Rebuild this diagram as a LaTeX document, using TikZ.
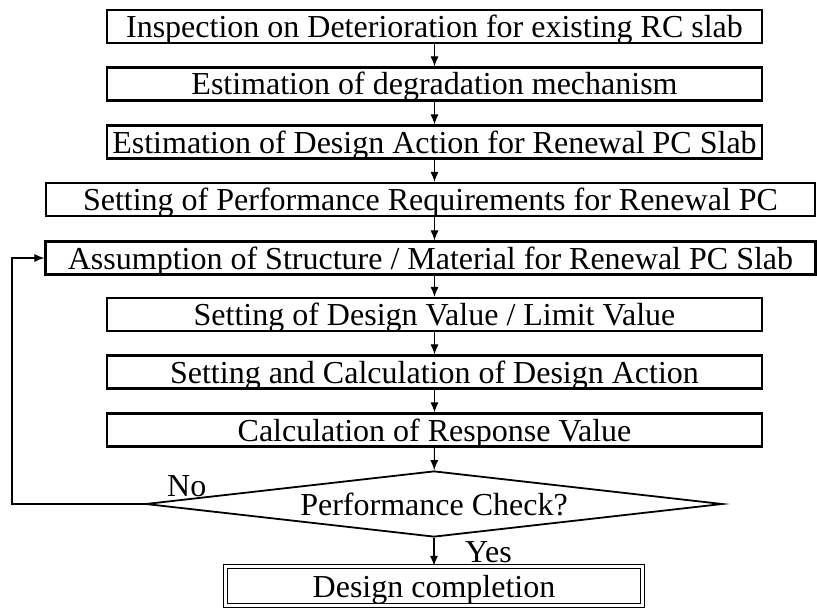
\documentclass[tikz,border=0pt]{standalone}
\usepackage{fontspec}
\setmainfont{Liberation Serif}
\usetikzlibrary{shapes.geometric,arrows.meta}

\begin{document}
\begin{tikzpicture}[x=1pt,y=-1pt]
    \tikzstyle{box}=[draw,line width=2.2pt,rectangle,inner sep=0pt,
      minimum height=33pt,text height=22pt,text depth=0pt,
      font=\fontsize{32}{36}\selectfont]
    \tikzstyle{check}=[draw,line width=1.8pt,diamond,aspect=8.7,fill=white,
      inner sep=0pt,minimum width=577pt,minimum height=66pt,text height=22pt,
      text depth=0pt,font=\fontsize{32}{36}\selectfont]
    \tikzstyle{done}=[draw,line width=1.4pt,double,double distance=2.6pt,
      rectangle,inner sep=0pt,minimum width=417pt,minimum height=39pt,
      text height=22pt,text depth=0pt,font=\fontsize{32}{36}\selectfont]
    \tikzstyle{tag}=[inner sep=0pt,anchor=base west,font=\fontsize{32}{36}\selectfont]
    \tikzstyle{arr}=[line width=1.1pt,-{Latex[length=10pt,width=8pt]}]
    \useasboundingbox (0,0) rectangle (817,610);
    \node[box,minimum width=655pt] (insp) at (434.5,26.5)
      {Inspection on Deterioration for existing RC slab};
    \node[box,minimum width=655pt] (mech) at (434.5,84)
      {Estimation of degradation mechanism};
    \node[box,minimum width=655pt] (act) at (434.5,142)
      {Estimation of Design Action for Renewal PC Slab};
    \node[box,minimum width=769pt] (req) at (430.5,199.5)
      {Setting of Performance Requirements for Renewal PC};
    \node[box,minimum width=770pt] (assume) at (430.5,258)
      {Assumption of Structure / Material for Renewal PC Slab};
    \node[box,minimum width=655pt] (limit) at (434.5,314.5)
      {Setting of Design Value / Limit Value};
    \node[box,minimum width=655pt] (calc) at (434.5,372)
      {Setting and Calculation of Design Action};
    \node[box,minimum width=655pt] (resp) at (434.5,430)
      {Calculation of Response Value};
    \node[tag] (no) at (167,496) {No};
    \node[check] (perf) at (434,504) {Performance Check?};
    \node[tag] (yes) at (465,562) {Yes};
    \node[done] (end) at (434,586) {Design completion};
    \coordinate (loop) at (12,0);
    \draw[arr] (insp) -- (mech);
    \draw[arr] (mech) -- (act);
    \draw[arr] (act.south) -- (act.south |- req.north);
    \draw[arr] (act.south |- req.south) -- (act.south |- assume.north);
    \draw[arr] (limit.north |- assume.south) -- (limit);
    \draw[arr] (limit) -- (calc);
    \draw[arr] (calc) -- (resp);
    \draw[arr] (resp) -- (perf);
    \draw[arr] (perf) -- (end);
    \draw[arr] (perf.west) -- (perf.west -| loop) |- (assume.west);
  \end{tikzpicture}
\end{document}
